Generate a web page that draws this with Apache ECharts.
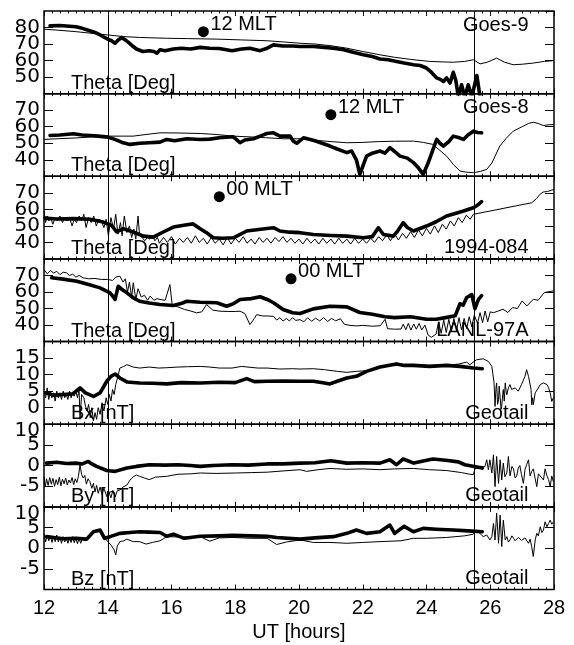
<!DOCTYPE html>
<html><head><meta charset="utf-8">
<script src="https://cdn.jsdelivr.net/npm/echarts/dist/echarts.min.js"></script>
<style>html,body{margin:0;padding:0;background:#fff}#c{width:574px;height:645px}</style>
</head><body><div id="c"></div>
<script>
// ---------------- DATA ----------------
const xTickLabels = [12,14,16,18,20,22,24,26,28];
const refLines = [14, 25.5];

const goes9Thick = [[12.19,81],[12.5,81.2],[12.8,80.8],[13.0,80.5],[13.2,79.5],[13.44,78],[13.6,77],[13.76,75.5],[14.0,73],[14.12,72],[14.23,70.5],[14.33,72.5],[14.44,74],[14.55,72.5],[14.65,71],[14.8,68.5],[14.9,67],[15.1,65.5],[15.3,66],[15.45,65.5],[15.54,64.5],[15.64,66.5],[15.8,66],[16.06,67],[16.3,67.5],[16.6,67],[16.9,68],[17.2,67.5],[17.5,67.3],[17.9,66],[18.2,67],[18.46,67.5],[18.78,66],[19.0,67.5],[19.2,69.5],[19.5,68.8],[19.8,68.8],[20.03,68.5],[20.45,68.5],[20.8,68],[21.08,67.5],[21.4,66.5],[21.7,65],[22.02,63.5],[22.3,62.5],[22.54,61],[22.8,60.5],[23.06,59.5],[23.3,58.5],[23.59,57.5],[23.8,57],[24.0,55.5],[24.15,53],[24.32,49.5],[24.45,48.5],[24.53,47.4],[24.63,49.5],[24.74,46.4],[24.84,52.9],[24.92,48],[25.0,38],[25.1,45.4],[25.2,38],[25.31,45.4],[25.42,38],[25.58,51],[25.68,38]];
const goes9Thin = [[12.0,79],[12.5,78.3],[13.0,77.5],[13.5,76.5],[14.0,75.5],[14.5,74.5],[15.0,74],[15.85,73.5],[16.5,73.3],[17.4,73],[18.2,72.5],[19.0,72],[19.5,71.3],[20.03,70.5],[20.5,70],[21.0,69],[21.5,67.5],[22.0,65.5],[22.54,63.5],[23.0,62],[23.5,60.7],[24.1,59.5],[24.5,59.2],[24.84,59],[25.2,59.5],[25.47,60.5],[25.68,58],[25.9,59],[26.2,61.5],[26.45,59],[26.72,57.5],[27.0,57.8],[27.35,58.5],[27.7,59.5],[28.0,60]];

const goes8Thick = [[12.19,54.7],[12.5,55],[12.92,55.7],[13.2,55],[13.44,54.7],[13.7,54.3],[14.0,53.7],[14.2,52.5],[14.45,50.5],[14.7,49.3],[15.0,50],[15.3,50.3],[15.64,50.7],[15.85,52.3],[16.1,51.5],[16.48,52.7],[16.9,52.3],[17.2,52.5],[17.5,53.3],[17.94,53.9],[18.05,52],[18.15,50.3],[18.3,52],[18.57,52.7],[18.8,54.5],[18.99,55.9],[19.2,56.3],[19.4,54.3],[19.72,54.3],[19.82,51.3],[19.93,50],[20.14,53.3],[20.5,51.5],[20.97,48.3],[21.2,46.5],[21.5,44.3],[21.65,45.3],[21.8,40],[21.91,31.2],[22.0,36],[22.12,42.2],[22.3,44],[22.54,45.3],[22.7,44],[22.85,47.3],[23.0,45],[23.17,42.2],[23.4,41],[23.59,38.3],[23.75,35],[23.9,31.2],[24.05,38],[24.2,46],[24.32,52.3],[24.42,50],[24.53,48.3],[24.7,51],[24.84,54.3],[25.0,53.5],[25.16,52.3],[25.3,55],[25.47,57.3],[25.6,56.5],[25.73,56.3]];
const goes8Thin = [[12.0,52.3],[12.5,52.8],[13.0,53.2],[13.5,53.8],[14.0,54.3],[14.5,54.3],[14.8,54.3],[15.2,55.3],[15.64,56.3],[16.2,56.2],[16.9,55.9],[17.4,55.3],[17.94,54.3],[18.5,53.8],[18.99,53.3],[19.5,52.7],[20.03,52.7],[20.5,51.8],[21.0,51],[21.5,50.3],[22.0,50.5],[22.5,51],[23.0,51.2],[23.59,51.3],[23.9,50.5],[24.2,49.3],[24.4,46],[24.63,42.2],[24.85,37],[25.05,33.2],[25.25,32.5],[25.47,32.2],[25.7,33],[25.89,34.2],[26.05,38],[26.3,48.3],[26.5,53],[26.72,57.3],[27.0,60],[27.2,62],[27.35,62.7],[27.5,62],[27.66,60.7],[27.85,61.2],[28.0,61.3]];

const sat084Thick = [[12.03,54.7],[12.4,54.2],[12.92,54.4],[13.44,54],[13.86,52.3],[14.12,50.3],[14.28,46.3],[14.49,48.3],[14.8,46.3],[15.12,43.8],[15.43,43.2],[15.74,46.3],[16.06,49.3],[16.48,50.7],[16.68,51.2],[16.9,48.3],[17.1,45.9],[17.31,42.8],[17.6,42.5],[17.94,42.8],[18.36,46.9],[18.8,48],[19.2,48.9],[19.4,46.9],[19.7,46.2],[20.03,45.9],[20.45,44.8],[21.0,44.2],[21.5,43.8],[22.02,42.8],[22.3,43.5],[22.49,48.9],[22.65,44.8],[22.96,43.8],[23.1,47],[23.27,51.9],[23.4,49],[23.59,46.9],[24.0,49.9],[24.3,52.5],[24.63,56],[24.9,57.5],[25.16,59],[25.47,61],[25.6,62.5],[25.73,64.7]];
const sat084Thin = [[12.0,59],[12.05,52],[12.1,56],[12.15,53],[12.2,55],[12.28,51],[12.35,55],[12.42,53],[12.5,56],[12.58,52],[12.65,55],[12.72,53],[12.8,55],[12.88,50],[12.95,54],[13.02,52],[13.1,56],[13.18,53],[13.25,57],[13.32,49],[13.4,55],[13.48,52],[13.56,56],[13.64,50],[13.72,54],[13.8,53],[13.88,49],[13.95,54],[14.02,44],[14.1,55],[14.18,48],[14.25,57],[14.32,45],[14.4,52],[14.45,44],[14.52,56],[14.6,46],[14.68,50],[14.75,43],[14.82,48],[14.88,42],[14.95,56],[15.0,44],[15.08,43],[15.16,41],[15.24,43],[15.32,42],[15.4,44],[15.48,41],[15.56,43],[15.62,39.5],[15.75,43],[15.87,40],[16.0,43.5],[16.12,39],[16.25,42.5],[16.37,40],[16.5,43],[16.62,39.5],[16.75,44],[16.87,40],[17.0,42.5],[17.12,39],[17.25,43],[17.37,39.5],[17.5,42],[17.62,38.5],[17.75,43],[17.87,39],[18.0,42.5],[18.12,40],[18.25,43.5],[18.37,39.5],[18.5,42],[18.62,39],[18.75,43],[18.87,40],[19.0,42.5],[19.12,39.5],[19.25,43],[19.37,40.5],[19.5,43.5],[19.62,40],[19.75,42.5],[19.87,39.5],[20.0,42],[20.12,39],[20.25,42.5],[20.37,39.5],[20.5,42],[20.62,39],[20.75,42.5],[20.87,39.5],[21.0,42],[21.12,39],[21.25,42.5],[21.37,39.5],[21.5,42],[21.62,39],[21.75,42.5],[21.87,39.5],[22.0,42],[22.12,39.5],[22.25,42.5],[22.37,40],[22.5,43.5],[22.62,41],[22.75,44.5],[22.87,41],[23.0,45],[23.12,41.5],[23.25,45.5],[23.37,42.5],[23.5,46.5],[23.62,43],[23.75,47.5],[23.87,44],[24.0,48.5],[24.12,45],[24.25,50],[24.37,46],[24.5,51],[24.62,48],[24.75,53],[24.87,50],[25.0,55],[25.12,52],[25.25,56.5],[25.37,54],[25.47,57],[27.3,64],[27.45,66.5],[27.56,69.1],[27.66,70.5],[27.8,70.8],[28.0,72.1]];

const lanlThick = [[12.24,68.6],[12.6,67.8],[13.03,66.5],[13.4,64.5],[13.76,62.5],[14.07,59.5],[14.18,57],[14.23,55.5],[14.33,63.5],[14.45,61.5],[14.6,59.5],[14.8,56.5],[15.0,54.4],[15.3,53.3],[15.64,52.4],[16.06,51.8],[16.3,53],[16.48,54.4],[16.9,53.8],[17.42,53.5],[17.73,51.4],[17.95,53],[18.15,55.5],[18.5,56],[18.78,57.1],[19.0,55.5],[19.2,53.5],[19.5,49.4],[19.8,47.5],[20.03,47],[20.45,49.8],[20.97,51.4],[21.5,51],[21.91,47.6],[22.3,46.5],[22.7,45],[23.0,44.5],[23.5,45],[24.0,43.5],[24.3,43.5],[24.6,44.5],[24.9,45.6],[25.05,52.9],[25.15,52],[25.26,56.7],[25.42,58.4],[25.52,49.9],[25.63,55.5],[25.73,57.8]];
const lanlThin = [[12.0,73.6],[12.1,71],[12.2,73],[12.3,71.5],[12.4,72.5],[12.5,70.5],[12.6,72],[12.71,71.6],[12.8,70],[12.9,70.8],[13.0,69],[13.1,70],[13.23,68.6],[13.4,68],[13.6,68.2],[13.8,67.6],[14.0,67.6],[14.15,67],[14.25,69],[14.38,69.6],[14.48,66],[14.55,68],[14.62,60],[14.68,66],[14.75,57],[14.8,65.6],[14.88,55.5],[14.95,62],[15.05,57],[15.15,58],[15.25,55],[15.33,57.5],[15.45,55],[15.55,56],[15.64,55.5],[15.8,55],[15.95,64.5],[16.02,52.4],[16.2,51],[16.4,49.5],[16.6,48.5],[16.79,47.4],[16.95,48],[17.1,52.4],[17.3,49],[17.52,48.4],[17.8,48.2],[18.0,48.2],[18.15,48.4],[18.3,47],[18.46,40.3],[18.6,44],[18.67,46.3],[18.85,45.5],[19.0,45.5],[19.2,45.3],[19.3,43],[19.4,44.5],[19.5,42.4],[19.6,44],[19.7,42.5],[19.8,44.5],[19.9,42.8],[20.03,43.3],[20.15,42],[20.27,44.4],[20.4,42.3],[20.52,44.2],[20.65,42.5],[20.77,44.5],[20.9,42.2],[21.02,44],[21.15,42.6],[21.3,43.8],[21.42,40.5],[21.6,39.8],[21.8,39.5],[22.0,39.8],[22.3,39.3],[22.55,39.6],[22.7,43.5],[22.78,37.8],[23.0,37.5],[23.2,37.6],[23.27,40.5],[23.35,37.2],[23.43,41],[23.51,37],[23.6,40.6],[23.68,37.5],[23.77,41],[23.85,37],[23.95,40],[24.05,34],[24.15,32.6],[24.3,34.5],[24.38,42],[24.46,35],[24.54,43],[24.62,35.5],[24.7,43.5],[24.78,36],[24.86,44],[24.94,36.5],[25.02,44.5],[25.1,37],[25.18,44],[25.26,38],[25.34,45],[25.42,39],[25.5,46],[25.6,41],[25.68,47.5],[25.76,41.5],[25.84,48.5],[25.92,42],[26.0,48],[26.1,47.5],[26.25,48.5],[26.4,49.6],[26.55,47.6],[26.7,50.6],[26.85,50],[27.0,54.6],[27.15,51.6],[27.35,55.6],[27.5,55],[27.7,59.7],[28.0,60.7]];

const bxThick = [[12.05,4.5],[12.3,3.8],[12.6,4],[12.9,4.2],[13.13,6.0],[13.3,4.5],[13.55,3.4],[13.76,4.5],[13.97,8.0],[14.1,9.5],[14.23,10.2],[14.38,9.0],[14.6,7.8],[15.0,7.5],[15.4,7.4],[15.85,7.2],[16.3,7.6],[16.9,7.5],[17.5,7.7],[18.0,7.6],[18.36,8.8],[18.6,7.9],[19.0,8.0],[19.5,8.1],[20.03,8.0],[20.45,8.0],[20.8,7.5],[20.97,7.2],[21.2,8],[21.5,9],[21.8,9.5],[22.12,11.0],[22.54,12.3],[23.06,13.2],[23.3,12.8],[23.59,12.8],[24.1,12.5],[24.63,12.8],[25.05,12.5],[25.47,12.0],[25.75,11.8]];
const bxThin = [[12.0,5],[12.05,3],[12.1,6],[12.15,2.5],[12.2,5],[12.25,3],[12.3,4.5],[12.35,2],[12.4,5],[12.45,3],[12.5,4.5],[12.55,2.5],[12.6,5],[12.65,3],[12.7,4],[12.75,2.5],[12.8,5],[12.85,3],[12.9,4.5],[12.95,3.5],[13.0,5],[13.05,3],[13.1,5.5],[13.13,-3.5],[13.18,4],[13.25,3],[13.3,0.5],[13.35,-1],[13.4,1],[13.45,-3],[13.5,0],[13.55,-4],[13.6,-1.5],[13.65,-3.5],[13.7,0],[13.76,-2],[13.82,1.5],[13.88,-1],[13.95,3],[14.0,1],[14.05,4],[14.1,2],[14.15,5.5],[14.2,4],[14.25,7],[14.32,9.5],[14.38,12],[14.5,12.5],[14.6,13],[14.8,12.3],[15.0,12.0],[15.3,12.3],[15.6,12],[15.85,12.1],[16.2,12.3],[16.5,12.4],[16.9,12.5],[17.2,12.3],[17.5,12.0],[17.9,12],[18.2,12.5],[18.4,12.3],[18.7,12.0],[19.0,12],[19.4,11.7],[19.8,11.8],[20.03,11.7],[20.45,11.8],[20.8,11.5],[21.2,11.0],[21.5,10.7],[21.8,11.0],[22.12,11.2],[22.54,12.3],[23.06,13.5],[23.3,13],[23.59,13.0],[24.0,12.8],[24.63,12.8],[25.0,13.2],[25.26,13.8],[25.36,13],[25.57,14.5],[25.78,14.8],[25.94,14],[26.05,12.5],[26.12,7.5],[26.15,0.4],[26.18,6],[26.2,7.5],[26.23,1],[26.26,2.4],[26.28,6.5],[26.31,7.0],[26.34,-0.5],[26.36,0.4],[26.39,4],[26.41,5.5],[26.44,2],[26.47,7.5],[26.5,5],[26.52,3.9],[26.57,6],[26.62,7.0],[26.67,5.5],[26.73,4.9],[26.78,6],[26.83,6.5],[26.88,5],[26.93,5.5],[26.98,7],[27.04,7.5],[27.09,9.5],[27.14,11.5],[27.2,9.5],[27.25,9.5],[27.28,5.5],[27.3,0.9],[27.33,3],[27.35,0.9],[27.41,4.5],[27.46,5],[27.51,6.0],[27.57,7],[27.62,7.5],[27.67,7.5],[27.72,8.0],[27.78,7],[27.83,6.0],[27.88,4.5],[27.93,1.9],[27.98,3.0]];

const byThick = [[12.08,0.6],[12.4,0.8],[12.7,0.5],[13.0,0.6],[13.2,0.4],[13.39,1.0],[13.5,0.4],[13.65,-0.2],[13.97,-1.2],[14.1,-1.3],[14.23,-1.4],[14.6,-0.6],[14.9,-0.2],[15.3,0.2],[15.8,0.1],[16.2,0.2],[16.6,0],[16.9,-0.2],[17.3,0],[17.9,0.2],[18.4,0.1],[19.0,0.4],[19.5,0.4],[20.03,0.6],[20.5,0.7],[21.0,1.15],[21.5,0.6],[22.0,0.7],[22.54,0.6],[22.85,1.4],[23.06,0.2],[23.27,1.6],[23.6,0.6],[24.2,1.6],[24.6,1.3],[25.0,0.9],[25.2,0.2],[25.5,-0.2],[25.75,-0.6]];
const byThin = [[12.0,-2.7],[12.04,-5.1],[12.08,-3.2],[12.13,-4.8],[12.18,-2.9],[12.23,-4.5],[12.28,-3.1],[12.33,-5.0],[12.38,-3.4],[12.43,-4.6],[12.48,-2.8],[12.53,-4.9],[12.58,-3.3],[12.63,-4.4],[12.68,-3.0],[12.73,-4.7],[12.78,-3.5],[12.83,-4.2],[12.88,-2.9],[12.93,-4.6],[12.98,-3.2],[13.03,-4.1],[13.08,-2.6],[13.13,0.2],[13.18,-2.2],[13.23,-3.0],[13.28,-2.4],[13.33,-4.5],[13.38,-3.2],[13.44,-3.9],[13.5,-5.5],[13.55,-4.3],[13.6,-6.4],[13.65,-4.8],[13.7,-6.7],[13.76,-5.2],[13.82,-7.0],[13.88,-5.5],[13.97,-7.5],[14.03,-6.2],[14.1,-7.8],[14.16,-6.0],[14.23,-7.6],[14.3,-6.1],[14.38,-5.9],[14.48,-5.2],[14.6,-4.7],[14.7,-3.5],[14.8,-2.7],[14.9,-2.3],[15.0,-2.6],[15.15,-3.0],[15.3,-3.4],[15.5,-2.8],[15.85,-2.6],[16.2,-2.1],[16.6,-2.0],[16.9,-1.8],[17.4,-1.9],[18.0,-1.8],[18.5,-1.7],[19.0,-1.6],[19.5,-1.3],[20.03,-1.0],[20.24,-1.4],[20.6,-1.0],[20.97,-0.7],[21.5,-0.9],[22.0,-0.8],[22.54,-1.0],[23.0,-0.8],[23.59,-0.7],[24.1,-1.0],[24.63,-1.2],[25.1,-1.7],[25.36,-2.1],[25.47,-2.2],[25.52,-0.8],[25.68,-0.2],[25.83,-0.3],[25.89,1.4],[25.94,-1.0],[25.99,1.4],[26.05,-1.8],[26.1,2.6],[26.15,-5.1],[26.2,2.2],[26.26,-4.3],[26.31,1.4],[26.36,-3.5],[26.41,0.6],[26.46,-2.7],[26.52,-1.8],[26.57,2.2],[26.62,-2.5],[26.68,-0.2],[26.73,-0.8],[26.78,-3.0],[26.83,-2.5],[26.88,-0.6],[26.93,0],[26.98,-2.2],[27.04,-4.3],[27.09,-1.0],[27.14,0.2],[27.2,1.4],[27.25,-2.5],[27.3,-1.4],[27.35,-0.8],[27.41,-3.2],[27.46,-5.1],[27.51,-2.0],[27.57,-1.8],[27.62,-3.0],[27.67,-3.5],[27.72,-0.8],[27.78,-2.5],[27.83,-3.4],[27.88,-5.1],[27.93,-2.5],[27.98,-3.9]];

const bzThick = [[12.08,2.8],[12.3,2.6],[12.6,2.3],[13.0,2.4],[13.34,2.2],[13.55,4.0],[13.76,4.4],[13.9,2.4],[14.07,2.8],[14.38,3.6],[14.7,3.8],[15.0,4.0],[15.3,3.9],[15.64,3.8],[15.85,2.9],[16.06,3.4],[16.4,2.4],[16.9,2.9],[17.5,3.0],[17.94,3.1],[18.5,3.0],[19.0,2.9],[19.3,2.6],[20.03,2.2],[20.5,2.5],[21.08,2.8],[21.5,3.6],[21.8,4.4],[22.12,3.6],[22.54,4.0],[22.85,5.6],[23.0,3.6],[23.3,5.3],[23.59,4.0],[23.9,4.8],[24.3,4.6],[24.84,4.4],[25.3,4.2],[25.75,4.0]];
const bzThin = [[12.0,3.5],[12.05,1.5],[12.1,3.2],[12.15,1.8],[12.2,3],[12.25,1.4],[12.3,2.8],[12.35,1.6],[12.4,3.2],[12.45,1.5],[12.5,2.6],[12.55,1.2],[12.6,2.8],[12.65,1.5],[12.7,2.5],[12.75,1.2],[12.8,2.6],[12.85,1.4],[12.9,2.8],[12.95,1.3],[13.0,2.5],[13.05,1.1],[13.1,2.4],[13.15,1.2],[13.2,2.2],[13.3,1.8],[13.55,4.0],[13.76,4.0],[14.0,1.6],[14.12,0.6],[14.2,-0.4],[14.25,-1.6],[14.3,0.5],[14.38,1.6],[14.5,1.8],[14.6,2.2],[14.8,1.6],[15.0,1.6],[15.2,1.0],[15.4,1.4],[15.64,1.8],[15.85,2.8],[16.3,2.7],[16.9,2.8],[17.2,1.7],[17.5,2.5],[17.94,2.6],[18.5,2.4],[19.0,2.4],[19.3,0.9],[19.6,1.5],[20.03,2.0],[20.45,1.4],[20.97,1.4],[21.5,1.2],[22.0,1.4],[22.54,1.6],[23.2,1.8],[23.59,2.4],[24.0,2.4],[24.63,2.6],[25.2,3.0],[25.47,3.4],[25.57,4.4],[25.78,2.8],[25.89,3.2],[25.99,2.0],[26.05,2.8],[26.1,6.0],[26.15,2.0],[26.2,8.5],[26.26,1.2],[26.31,8.0],[26.36,0.4],[26.41,6.8],[26.47,2.0],[26.52,2.8],[26.57,1.5],[26.62,2.0],[26.68,3.0],[26.73,2.4],[26.78,1.8],[26.83,2.0],[26.88,2.6],[26.93,2.4],[26.98,1.9],[27.04,1.6],[27.09,2.5],[27.14,2.4],[27.2,1.2],[27.25,2.2],[27.3,0.4],[27.35,-2.0],[27.41,2.0],[27.46,3.6],[27.51,3.0],[27.57,5.2],[27.62,3.8],[27.67,4.4],[27.72,6.4],[27.78,5.2],[27.83,6.0],[27.88,6.8],[27.93,5.8],[27.98,6.4]];

const markerPoints = [[17.0,77.5],[21.0,67.3],[17.5,67.7],[19.75,68.0]];
const markerLabels = ['12 MLT','12 MLT','00 MLT','00 MLT'];

const yLabelsTheta1 = [50,60,70,80];
const yLabelsTheta = [40,50,60,70];
const yLabelsBx = [0,5,10,15];
const yLabelsB = [-5,0,5,10];

const panelNames = ['Theta [Deg]','Theta [Deg]','Theta [Deg]','Theta [Deg]','Bx [nT]','By [nT]','Bz [nT]'];
const satNames = ['Goes-9','Goes-8','1994-084','LANL-97A','Geotail','Geotail','Geotail'];

// ---------------- LAYOUT ----------------
const FONT = '"Liberation Sans", Arial, Helvetica, sans-serif';
const YFONT = '"DejaVu Sans", "Liberation Sans", Arial, sans-serif';
const FS = 20;
const LEFT = 44, RIGHT_EDGE = 554, TOP0 = 11, PH = 82.65;
// axis ranges; for By/Bz the top end carries a labelled tick, so the axis end itself is left unlabelled
const panels = [
  {thick: goes9Thick, thin: goes9Thin, min:40, max:90, step:10, labels: yLabelsTheta1, satTop:true, marker:0},
  {thick: goes8Thick, thin: goes8Thin, min:30, max:80, step:10, labels: yLabelsTheta, satTop:true, marker:1},
  {thick: sat084Thick, thin: sat084Thin, min:30, max:80, step:10, labels: yLabelsTheta, satTop:false, marker:2},
  {thick: lanlThick, thin: lanlThin, min:30, max:80, step:10, labels: yLabelsTheta, satTop:false, marker:3},
  {thick: bxThick, thin: bxThin, min:-5, max:20, step:5, labels: yLabelsBx, satTop:false},
  {thick: byThick, thin: byThin, min:-10, max:10.0001, step:5, labels: yLabelsB, satTop:false, shiftTop:10},
  {thick: bzThick, thin: bzThin, min:-10, max:10.0001, step:5, labels: yLabelsB, satTop:false, shiftTop:10}
];

const grid = [], xAxis = [], yAxis = [], series = [], graphic = [];
panels.forEach((p, i) => {
  const top = TOP0 + i*PH;
  const bottom = top + PH;
  grid.push({left: LEFT, width: RIGHT_EDGE-LEFT, top: top, height: PH, show: true, borderColor: '#000', borderWidth: 1.5, backgroundColor: 'transparent'});
  const last = i === panels.length-1;
  const xCommon = {type:'value', gridIndex:i, min:12, max:28, interval:2,
    axisLine:{show:false, onZero:false}, splitLine:{show:false},
    axisTick:{show:true, inside:true, length:5, lineStyle:{color:'#000', width:1}},
    minorTick:{show:true, splitNumber:8, length:2.5, lineStyle:{color:'#000', width:1}}};
  xAxis.push(Object.assign({}, xCommon, {position:'bottom',
    axisLabel:{show:last, margin:9, color:'#000', fontSize:FS, fontFamily:FONT, hideOverlap:false,
      formatter: v => xTickLabels.includes(v) ? String(v) : ''},
    name: last ? 'UT [hours]' : '', nameLocation:'middle', nameGap:33,
    nameTextStyle:{color:'#000', fontSize:FS, fontFamily:FONT}}));
  xAxis.push(Object.assign({}, xCommon, {position:'top', axisLabel:{show:false}}));
  const yCommon = {type:'value', gridIndex:i, min:p.min, max:p.max, interval:p.step,
    axisLine:{show:false, onZero:false}, splitLine:{show:false},
    axisTick:{show:true, inside:true, length:9, lineStyle:{color:'#000', width:1}}};
  yAxis.push(Object.assign({}, yCommon, {position:'left',
    axisLabel:{show:true, margin:4, color:'#000', fontSize:FS, fontFamily:YFONT,
      showMinLabel:false, showMaxLabel:false, hideOverlap:false,
      formatter: v => p.labels.includes(v) ? ((p.shiftTop !== undefined && v === p.shiftTop) ? '{t|' + v + '}' : String(v)) : '',
      rich:{t:{fontSize:FS, fontFamily:YFONT, color:'#000', padding:[14,0,0,0]}}}}));
  yAxis.push(Object.assign({}, yCommon, {position:'right', axisLabel:{show:false}}));

  series.push({type:'line', xAxisIndex:2*i, yAxisIndex:2*i, data:p.thin, showSymbol:false, symbol:'none',
    lineStyle:{color:'#000', width:1, join:'round'}, silent:true, animation:false, z:2,
    markLine:{silent:true, symbol:['none','none'], label:{show:false}, animation:false,
      lineStyle:{color:'#000', width:1, type:'solid'},
      data: refLines.map(v => ({xAxis:v}))}});
  series.push({type:'line', xAxisIndex:2*i, yAxisIndex:2*i, data:p.thick, showSymbol:false, symbol:'none',
    lineStyle:{color:'#000', width:3.6, join:'round', cap:'round'}, silent:true, animation:false, z:3});
  if (p.marker !== undefined) {
    series.push({type:'scatter', xAxisIndex:2*i, yAxisIndex:2*i, data:[markerPoints[p.marker]],
      symbol:'circle', symbolSize:11, itemStyle:{color:'#000', opacity:1}, silent:true, animation:false, z:4,
      label:{show:true, formatter: markerLabels[p.marker], position:[12.5,-1.5], align:'left', verticalAlign:'middle',
        color:'#000', opacity:1, fontSize:FS, fontFamily:FONT}});
  }
  graphic.push({type:'text', silent:true, z:10,
    style:{text: panelNames[i], x:71, y: bottom-10.5, textAlign:'left', textVerticalAlign:'middle',
      font: FS + 'px ' + FONT, fill:'#000'}});
  graphic.push({type:'text', silent:true, z:10,
    style:{text: satNames[i], x:528.5, y: p.satTop ? top+14.2 : bottom-11, textAlign:'right', textVerticalAlign:'middle',
      font: FS + 'px ' + FONT, fill:'#000'}});
});

const chart = echarts.init(document.getElementById('c'), null, {renderer:'canvas'});
chart.setOption({animation:false, backgroundColor:'#fff', grid, xAxis, yAxis, series, graphic});
</script>
</body></html>
